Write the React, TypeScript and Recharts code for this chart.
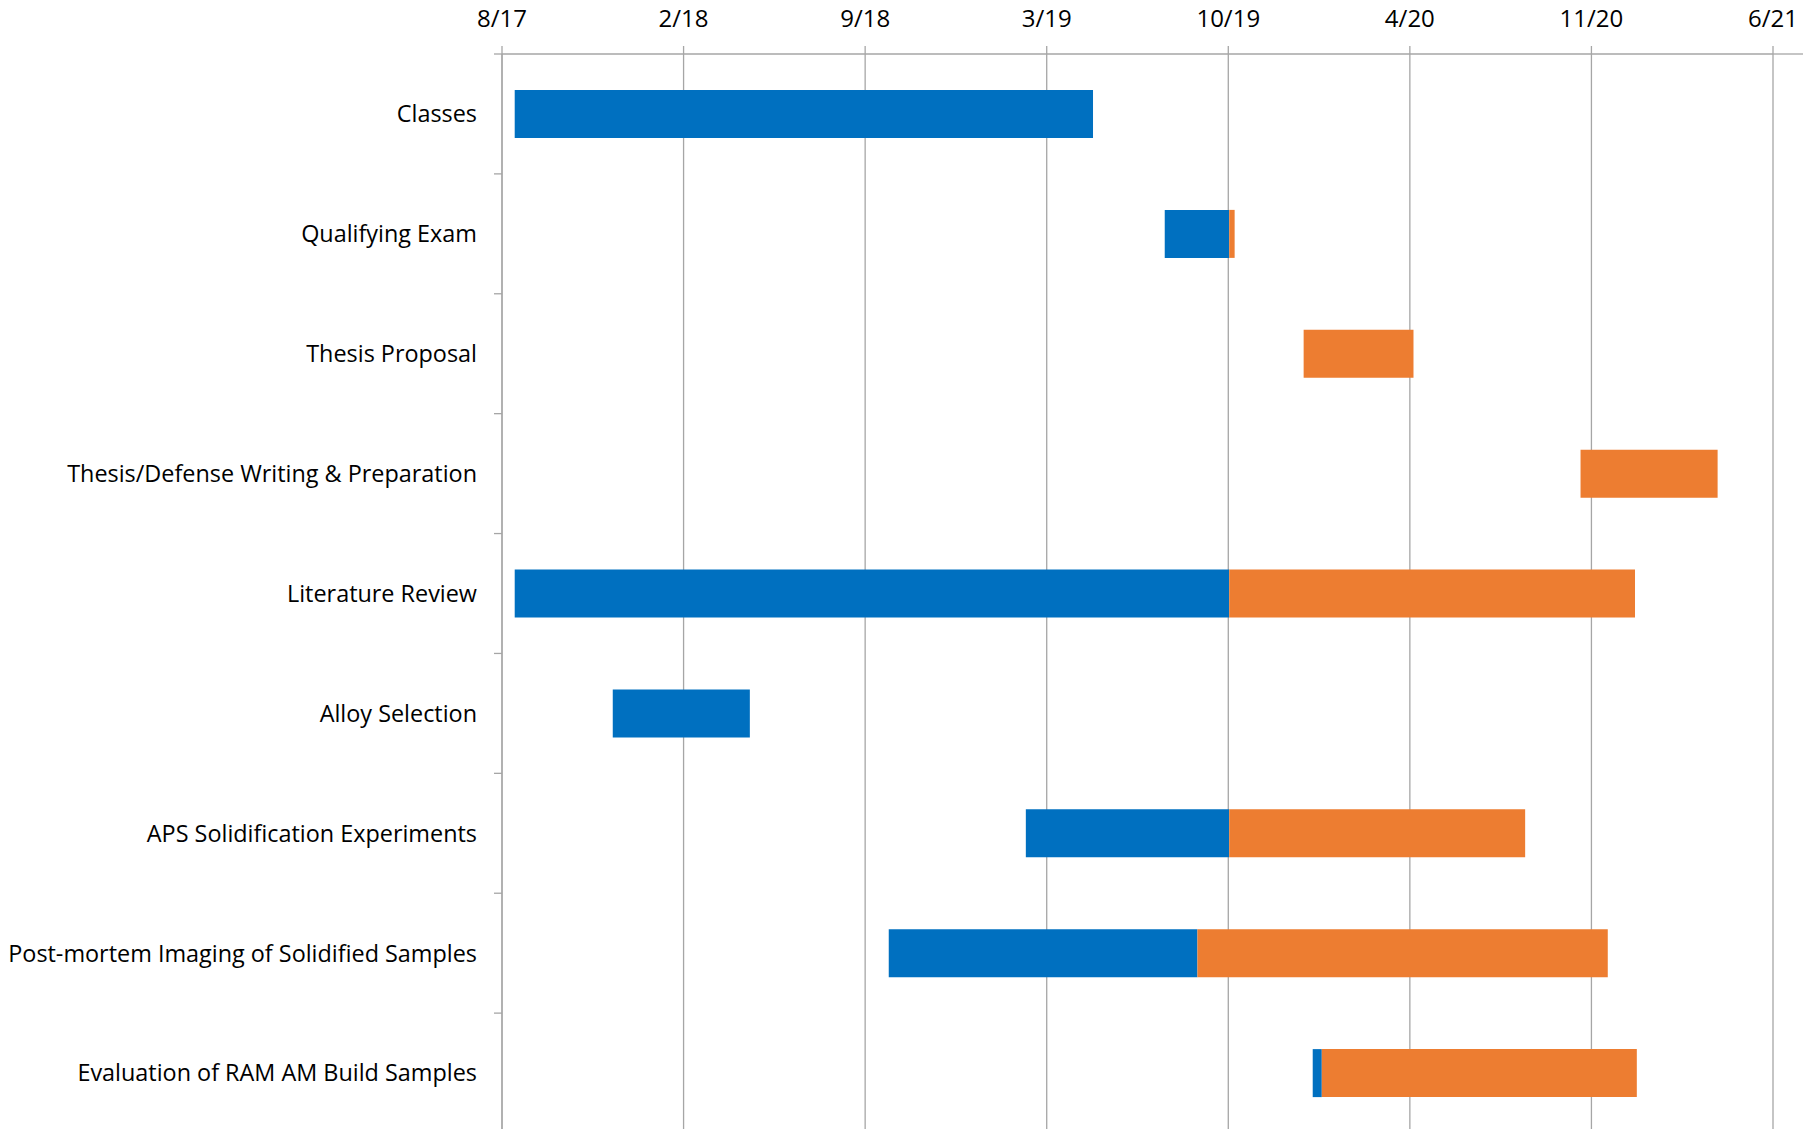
import React from 'react'
import { BarChart, Bar, XAxis, YAxis, CartesianGrid } from 'recharts'

// Tasks, listed top to bottom
const tasks = [
  'Classes',
  'Qualifying Exam',
  'Thesis Proposal',
  'Thesis/Defense Writing & Preparation',
  'Literature Review',
  'Alloy Selection',
  'APS Solidification Experiments',
  'Post-mortem Imaging of Solidified Samples',
  'Evaluation of RAM AM Build Samples',
]

// Days counted from 8/1/2017
const startDays = [14, 730, 883, 1188, 14, 122, 577, 426, 893]
const doneDays = [637, 71, 0, 0, 787, 151, 224, 340, 10]
const remainingDays = [0, 6, 121, 151, 447, 0, 326, 452, 347]

// Axis ticks every 200 days
const tickDays = [0, 200, 400, 600, 800, 1000, 1200, 1400]
const tickLabels = ['8/17', '2/18', '9/18', '3/19', '10/19', '4/20', '11/20', '6/21']

const data = tasks.map((task, i) => ({
  task,
  start: startDays[i],
  done: doneDays[i],
  remaining: remainingDays[i],
}))

const FONT = '"Open Sans", sans-serif'
const GRID = '#a6a6a6'
const CHART_W = 1803
const CHART_H = 1136
const Y_WIDTH = 502
const X_HEIGHT = 54
const MARGIN_RIGHT = 30
const MARGIN_BOTTOM = 3
const BAND = (CHART_H - X_HEIGHT - MARGIN_BOTTOM) / tasks.length

const XTick = ({ x, payload, index }: any) => (
  <g>
    {index === tickDays.length - 1 && (
      // axis line runs on a little past the last tick
      <line x1={x} x2={x + MARGIN_RIGHT} y1={X_HEIGHT} y2={X_HEIGHT} stroke={GRID} strokeWidth={1.3} />
    )}
    <text x={x} y={27} textAnchor="middle" fontSize={24} fontFamily={FONT} fill="#000">
      {tickLabels[tickDays.indexOf(payload.value)]}
    </text>
  </g>
)

const YTick = ({ y, payload }: any) => (
  <g>
    <line x1={Y_WIDTH - 8} x2={Y_WIDTH} y1={y - BAND / 2} y2={y - BAND / 2} stroke={GRID} strokeWidth={1.3} />
    <text x={477} y={y} dy="0.36em" textAnchor="end" fontSize={23.4} fontFamily={FONT} fill="#000">
      {payload.value}
    </text>
  </g>
)

export default function App() {
  return (
    <div
      style={{
        position: 'fixed',
        top: 0,
        left: 0,
        width: 1810,
        height: 1129,
        overflow: 'hidden',
        background: '#fff',
      }}
    >
      <style>{'.recharts-wrapper, .recharts-surface { outline: none; }'}</style>
      <BarChart
        width={CHART_W}
        height={CHART_H}
        data={data}
        layout="vertical"
        accessibilityLayer={false}
        style={{ outline: 'none' }}
        margin={{ top: 0, right: MARGIN_RIGHT, bottom: MARGIN_BOTTOM, left: 0 }}
      >
        <CartesianGrid horizontal={false} syncWithTicks stroke={GRID} strokeWidth={1.3} />
        <XAxis
          type="number"
          orientation="top"
          domain={[0, 1400]}
          ticks={tickDays}
          height={X_HEIGHT}
          tickSize={8}
          tickLine={{ stroke: GRID, strokeWidth: 1.3 }}
          axisLine={{ stroke: GRID, strokeWidth: 1.3 }}
          tick={<XTick />}
          allowDataOverflow
        />
        <YAxis
          type="category"
          dataKey="task"
          width={Y_WIDTH}
          interval={0}
          tickLine={false}
          axisLine={{ stroke: GRID, strokeWidth: 1.3 }}
          tick={<YTick />}
        />
        <Bar dataKey="start" stackId="a" fill="transparent" barSize={48} isAnimationActive={false} />
        <Bar dataKey="done" stackId="a" fill="#0070C0" barSize={48} isAnimationActive={false} />
        <Bar dataKey="remaining" stackId="a" fill="#ED7D31" barSize={48} isAnimationActive={false} />
      </BarChart>
    </div>
  )
}
